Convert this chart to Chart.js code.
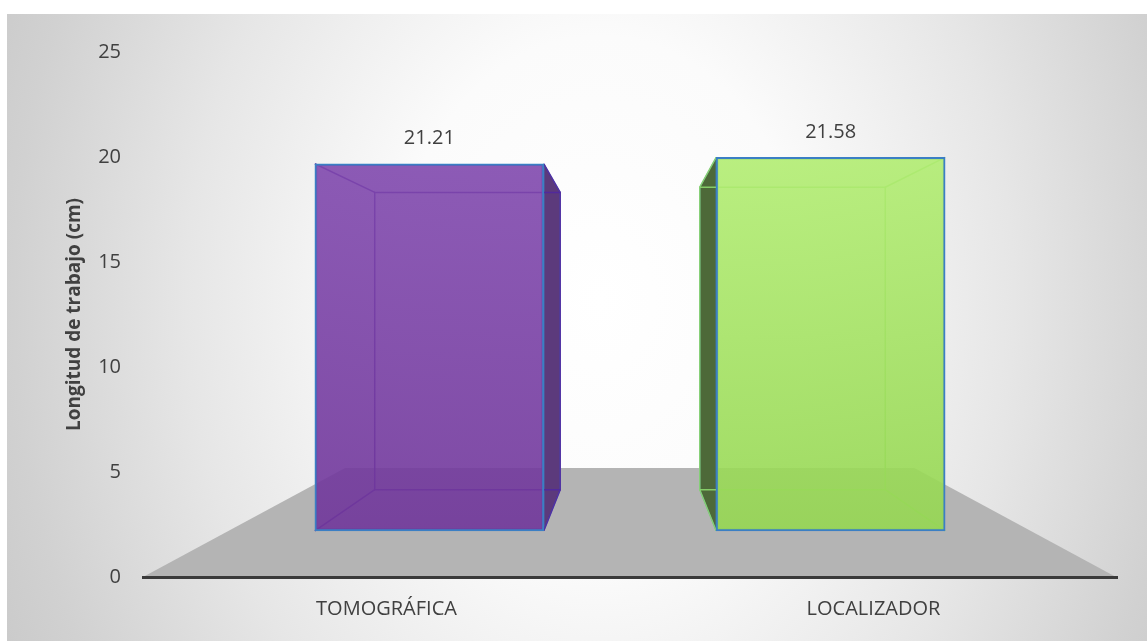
<!DOCTYPE html>
<html>
<head>
<meta charset="utf-8">
<script src="https://cdn.jsdelivr.net/npm/chart.js@4.4.1/dist/chart.umd.min.js"></script>
<style>
  html, body { margin: 0; padding: 0; background: #fff; }
  #wrap { width: 1147px; height: 641px; }
</style>
</head>
<body>
<div id="wrap"><canvas id="longitud-chart"></canvas></div>
<script>
// data
const categories = ['TOMOGRÁFICA', 'LOCALIZADOR'];
const values = [21.21, 21.58];
const yTicks = [0, 5, 10, 15, 20, 25];

// 3d look: how far the bar front sits behind the floor front, and the bar back behind its front
const FRONT = 0.824;
const BACK = 0.81;
const FLOOR_BACK = 0.585;

const frontTop = ['rgba(130, 74, 178, 0.88)', 'rgba(184, 243, 120, 0.88)'];
const frontBottom = ['rgba(110, 52, 152, 0.9)', 'rgba(146, 212, 78, 0.9)'];
const sideColors = ['#5c3a7c', '#4d6939'];
const edgeColors = ['rgba(80, 40, 160, 0.9)', 'rgba(140, 215, 110, 0.9)'];

function project(chart, x, y, s) {
    const a = chart.chartArea;
    const cx = (a.left + a.right) / 2;
    const cy = (a.top + a.bottom) / 2;
    return [cx + (x - cx) * s, cy + (y - cy) * s];
}

function poly(ctx, pts) {
    ctx.beginPath();
    ctx.moveTo(pts[0][0], pts[0][1]);
    for (let i = 1; i < pts.length; i++) ctx.lineTo(pts[i][0], pts[i][1]);
    ctx.closePath();
}

// keep the hidden axes exactly at the given limits
function fixLimits(lo, hi) {
    return function(scale) {
        scale.min = lo;
        scale.max = hi;
    };
}

const box3d = {
    id: 'box3d',
    beforeDraw(chart) {
        const ctx = chart.ctx;
        const a = chart.chartArea;
        ctx.save();
        ctx.fillStyle = '#fff';
        ctx.fillRect(0, 0, chart.width, chart.height);
        // soft radial background
        const cx = 600, cy = 300, rx = 690, ry = 880;
        ctx.translate(cx, cy);
        ctx.scale(1, ry / rx);
        const g = ctx.createRadialGradient(0, 0, 0, 0, 0, rx);
        g.addColorStop(0, '#ffffff');
        g.addColorStop(0.3, '#fbfbfb');
        g.addColorStop(0.6, '#e6e6e6');
        g.addColorStop(0.85, '#d1d1d1');
        g.addColorStop(1, '#c7c7c7');
        ctx.fillStyle = g;
        ctx.fillRect(7 - cx, (14 - cy) * rx / ry, chart.width, (chart.height + 20) * rx / ry);
        ctx.restore();

        // floor
        const y0 = chart.scales.y.getPixelForValue(0);
        const l = a.left, r = a.right - 1;
        ctx.save();
        poly(ctx, [[l, y0], [r, y0], project(chart, r, y0, FLOOR_BACK), project(chart, l, y0, FLOOR_BACK)]);
        ctx.fillStyle = '#b4b4b4';
        ctx.fill();
        ctx.restore();
    },
    beforeDatasetsDraw(chart) {
        const ctx = chart.ctx;
        const meta = chart.getDatasetMeta(0);
        ctx.save();
        meta.data.forEach(function(bar, i) {
            const L = bar.x - bar.width / 2, R = bar.x + bar.width / 2;
            const T = bar.y, B = bar.base;
            const bTL = project(chart, L, T, BACK), bTR = project(chart, R, T, BACK);
            const bBL = project(chart, L, B, BACK), bBR = project(chart, R, B, BACK);

            // side face
            let side;
            if (bTR[0] > R) side = [[R, T], bTR, bBR, [R, B]];
            else side = [[L, T], bTL, bBL, [L, B]];
            poly(ctx, side);
            ctx.fillStyle = sideColors[i];
            ctx.fill();
            ctx.strokeStyle = '#3f7fc2';
            ctx.lineWidth = 1;
            ctx.stroke();

            // back edges seen through the front
            ctx.strokeStyle = edgeColors[i];
            ctx.lineWidth = 1.5;
            poly(ctx, [bTL, bTR, bBR, bBL]);
            ctx.stroke();
            ctx.beginPath();
            ctx.moveTo(L, T); ctx.lineTo(bTL[0], bTL[1]);
            ctx.moveTo(R, T); ctx.lineTo(bTR[0], bTR[1]);
            ctx.moveTo(R, B); ctx.lineTo(bBR[0], bBR[1]);
            ctx.moveTo(L, B); ctx.lineTo(bBL[0], bBL[1]);
            ctx.stroke();
        });
        ctx.restore();
    },
    afterDatasetsDraw(chart) {
        const ctx = chart.ctx;
        const meta = chart.getDatasetMeta(0);
        ctx.save();
        ctx.font = "20px 'Open Sans'";
        ctx.fillStyle = '#404040';
        ctx.textAlign = 'center';
        ctx.textBaseline = 'middle';
        meta.data.forEach(function(bar, i) {
            ctx.fillText(values[i].toFixed(2), bar.x, bar.y - 25);
        });
        ctx.restore();
    }
};

Chart.defaults.font.family = "'Open Sans', sans-serif";
Chart.defaults.color = '#404040';

const ctx = document.getElementById('longitud-chart');
const myChart = new Chart(ctx, {
    type: 'bar',
    data: {
        labels: categories,
        datasets: [{
            label: 'Longitud de trabajo (cm)',
            data: values.map((v, i) => ({ x: i, y: v })),
            xAxisID: 'x2',
            yAxisID: 'y2',
            barThickness: 229,
            backgroundColor: function(c) {
                const area = c.chart.chartArea;
                if (!area) return frontTop[c.dataIndex];
                const g = c.chart.ctx.createLinearGradient(0, area.top, 0, area.bottom);
                g.addColorStop(0, frontTop[c.dataIndex]);
                g.addColorStop(1, frontBottom[c.dataIndex]);
                return g;
            },
            borderColor: '#3b7fc4',
            borderWidth: 2,
            borderSkipped: false
        }]
    },
    options: {
        responsive: true,
        maintainAspectRatio: false,
        animation: false,
        layout: {
            padding: { top: 52, right: 30, bottom: 0, left: 59 }
        },
        plugins: {
            legend: { display: false },
            tooltip: { enabled: false }
        },
        scales: {
            x: {
                type: 'category',
                offset: true,
                grid: { display: false, drawTicks: false },
                border: { display: true, color: '#3a3a3a', width: 3 },
                ticks: { padding: 20, font: { size: 20 }, color: '#404040' }
            },
            y: {
                min: yTicks[0],
                max: yTicks[yTicks.length - 1],
                grid: { display: false, drawTicks: false },
                border: { display: false },
                ticks: { stepSize: yTicks[1] - yTicks[0], padding: 22, font: { size: 20 }, color: '#404040' },
                title: {
                    display: true,
                    text: 'Longitud de trabajo (cm)',
                    font: { size: 19, weight: 'bold' },
                    color: '#404040',
                    padding: { top: 4, bottom: 4 }
                },
                afterFit: function(scale) { scale.width = 84; }
            },
            // hidden axes for the bar front, pushed back into the picture
            x2: {
                type: 'linear',
                display: false,
                offset: false,
                grid: { offset: false },
                bounds: 'data',
                afterBuildTicks: fixLimits(0.5 - 1 / FRONT, 0.5 + 1 / FRONT)
            },
            y2: {
                type: 'linear',
                display: false,
                bounds: 'data',
                afterBuildTicks: fixLimits(12.5 - 12.5 / FRONT, 12.5 + 12.5 / FRONT)
            }
        }
    },
    plugins: [box3d]
});
</script>
</body>
</html>
